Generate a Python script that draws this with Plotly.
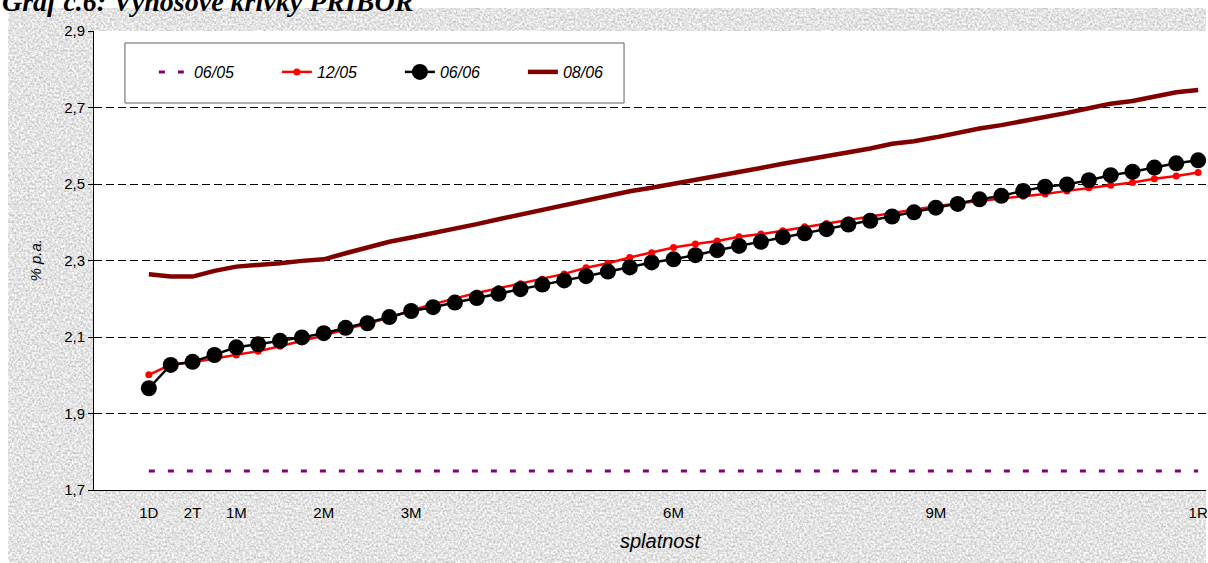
import base64
import plotly.graph_objects as go

# splatnost - tydenni body od 1D do 1R
tick_pos = [0, 2, 4, 8, 12, 24, 36, 48]
tick_text = ["1D", "2T", "1M", "2M", "3M", "6M", "9M", "1R"]

pribor_0605 = [1.75] * 49
pribor_1205 = [2.001, 2.028, 2.034, 2.043, 2.053, 2.063, 2.076, 2.090, 2.104, 2.120,
               2.135, 2.150, 2.170, 2.186, 2.201, 2.215, 2.227, 2.239, 2.251, 2.265,
               2.281, 2.293, 2.308, 2.320, 2.334, 2.343, 2.351, 2.362, 2.369, 2.378,
               2.388, 2.397, 2.406, 2.415, 2.424, 2.434, 2.442, 2.449, 2.456, 2.462,
               2.468, 2.474, 2.482, 2.490, 2.497, 2.504, 2.514, 2.521, 2.530]
pribor_0606 = [1.966, 2.027, 2.035, 2.053, 2.073, 2.081, 2.090, 2.099, 2.110, 2.124,
               2.136, 2.152, 2.168, 2.178, 2.190, 2.202, 2.213, 2.225, 2.237, 2.248,
               2.259, 2.271, 2.282, 2.295, 2.303, 2.314, 2.327, 2.338, 2.349, 2.361,
               2.371, 2.382, 2.394, 2.404, 2.415, 2.426, 2.438, 2.448, 2.460, 2.469,
               2.482, 2.493, 2.499, 2.510, 2.523, 2.532, 2.543, 2.554, 2.562]
pribor_0806 = [2.264, 2.258, 2.258, 2.273, 2.284, 2.288, 2.293, 2.299, 2.303, 2.319,
               2.335, 2.349, 2.360, 2.371, 2.383, 2.395, 2.408, 2.420, 2.432, 2.446,
               2.458, 2.470, 2.481, 2.490, 2.500, 2.511, 2.521, 2.531, 2.542, 2.553,
               2.563, 2.573, 2.581, 2.593, 2.605, 2.612, 2.622, 2.634, 2.645, 2.654,
               2.664, 2.676, 2.686, 2.698, 2.710, 2.717, 2.728, 2.740, 2.746]

x = list(range(len(pribor_0606)))

# sedy "mramor" pozadi jako svg sum
texture = """<svg xmlns='http://www.w3.org/2000/svg' width='1200' height='555'>
<filter id='t' x='0' y='0' width='100%' height='100%' color-interpolation-filters='sRGB'>
<feTurbulence type='fractalNoise' baseFrequency='0.45' numOctaves='4' seed='7'/>
<feColorMatrix type='matrix' values='0.42 0 0 0 0.68 0.42 0 0 0 0.68 0.42 0 0 0 0.68 0 0 0 0 1'/>
</filter>
<rect width='100%' height='100%' filter='url(#t)'/>
</svg>"""
texture_uri = "data:image/svg+xml;base64," + base64.b64encode(texture.encode()).decode()

W, H = 1208, 563
L, T, B = 94, 31, 73
pw, ph = W - L, H - T - B


def px_x(v):
    return (v - L) / pw


def px_y(v):
    return (H - B - v) / ph


fig = go.Figure()
fig.add_trace(go.Scatter(x=x, y=pribor_0605, name="06/05", mode="lines",
                         line=dict(color="#800080", width=3, dash="6px,13px")))
fig.add_trace(go.Scatter(x=x, y=pribor_1205, name="12/05", mode="lines+markers",
                         line=dict(color="#ff0000", width=2.5),
                         marker=dict(color="#ff0000", size=7)))
fig.add_trace(go.Scatter(x=x, y=pribor_0606, name="06/06", mode="lines+markers",
                         line=dict(color="#000000", width=2.5),
                         marker=dict(color="#000000", size=16)))
fig.add_trace(go.Scatter(x=x, y=pribor_0806, name="08/06", mode="lines",
                         line=dict(color="#800000", width=4.5)))

fig.update_layout(
    width=W, height=H,
    margin=dict(l=L, r=0, t=T, b=B),
    paper_bgcolor="white",
    plot_bgcolor="white",
    separators=", ",
    font=dict(family="Liberation Sans, Arial", size=15, color="black"),
    showlegend=True,
    legend=dict(
        orientation="h", x=px_x(154), y=px_y(72), xanchor="left", yanchor="middle",
        bgcolor="rgba(0,0,0,0)", borderwidth=0,
        font=dict(size=16, style="italic"),
        entrywidth=78, entrywidthmode="pixels",
    ),
    xaxis=dict(
        range=[-2.51, 48.36], tickvals=tick_pos, ticktext=tick_text,
        showgrid=False, zeroline=False, showline=True, linecolor="black", linewidth=1,
        ticks="outside", ticklen=9, tickcolor="rgba(0,0,0,0)",
        tickfont=dict(size=15), ticklabeloverflow="allow",
    ),
    yaxis=dict(
        range=[1.7, 2.9], tick0=1.7, dtick=0.2, tickformat=".1f",
        showgrid=True, gridcolor="black", gridwidth=1, griddash="8px,4px",
        zeroline=False, showline=True, linecolor="black", linewidth=1,
        ticks="outside", ticklen=5, tickcolor="black",
        tickfont=dict(size=15),
    ),
    images=[dict(source=texture_uri, xref="paper", yref="paper",
                 x=px_x(8), y=px_y(8), sizex=1200 / pw, sizey=555 / ph,
                 sizing="stretch", xanchor="left", yanchor="top", layer="below")],
    shapes=[
        # bila plocha grafu nad texturou
        dict(type="rect", xref="paper", yref="paper", x0=0, x1=1, y0=0, y1=1,
             fillcolor="white", line=dict(width=0), layer="below"),
        # ramecek legendy
        dict(type="rect", xref="paper", yref="paper",
             x0=px_x(125), x1=px_x(625), y0=px_y(103), y1=px_y(43),
             fillcolor="white", line=dict(color="#606060", width=1), layer="below"),
    ],
    annotations=[
        dict(text="Graf č.6: Výnosové křivky PRIBOR", xref="paper", yref="paper",
             x=px_x(0), y=px_y(19), xanchor="left", yanchor="bottom", showarrow=False,
             font=dict(family="Liberation Serif", size=28, style="italic", weight="bold")),
        dict(text="% p.a.", xref="paper", yref="paper", x=px_x(35), y=0.5,
             xanchor="center", yanchor="middle",
             textangle=-90, showarrow=False, font=dict(size=15, style="italic")),
        dict(text="splatnost", xref="paper", yref="paper", x=px_x(662), y=px_y(541),
             xanchor="center", yanchor="middle",
             showarrow=False, font=dict(size=20, style="italic")),
    ],
)

# bez okraju stranky, aby graf sedel na pixel
fig.write_html("out.html", config={"displayModeBar": False},
               post_script="document.body.style.margin='0';")
